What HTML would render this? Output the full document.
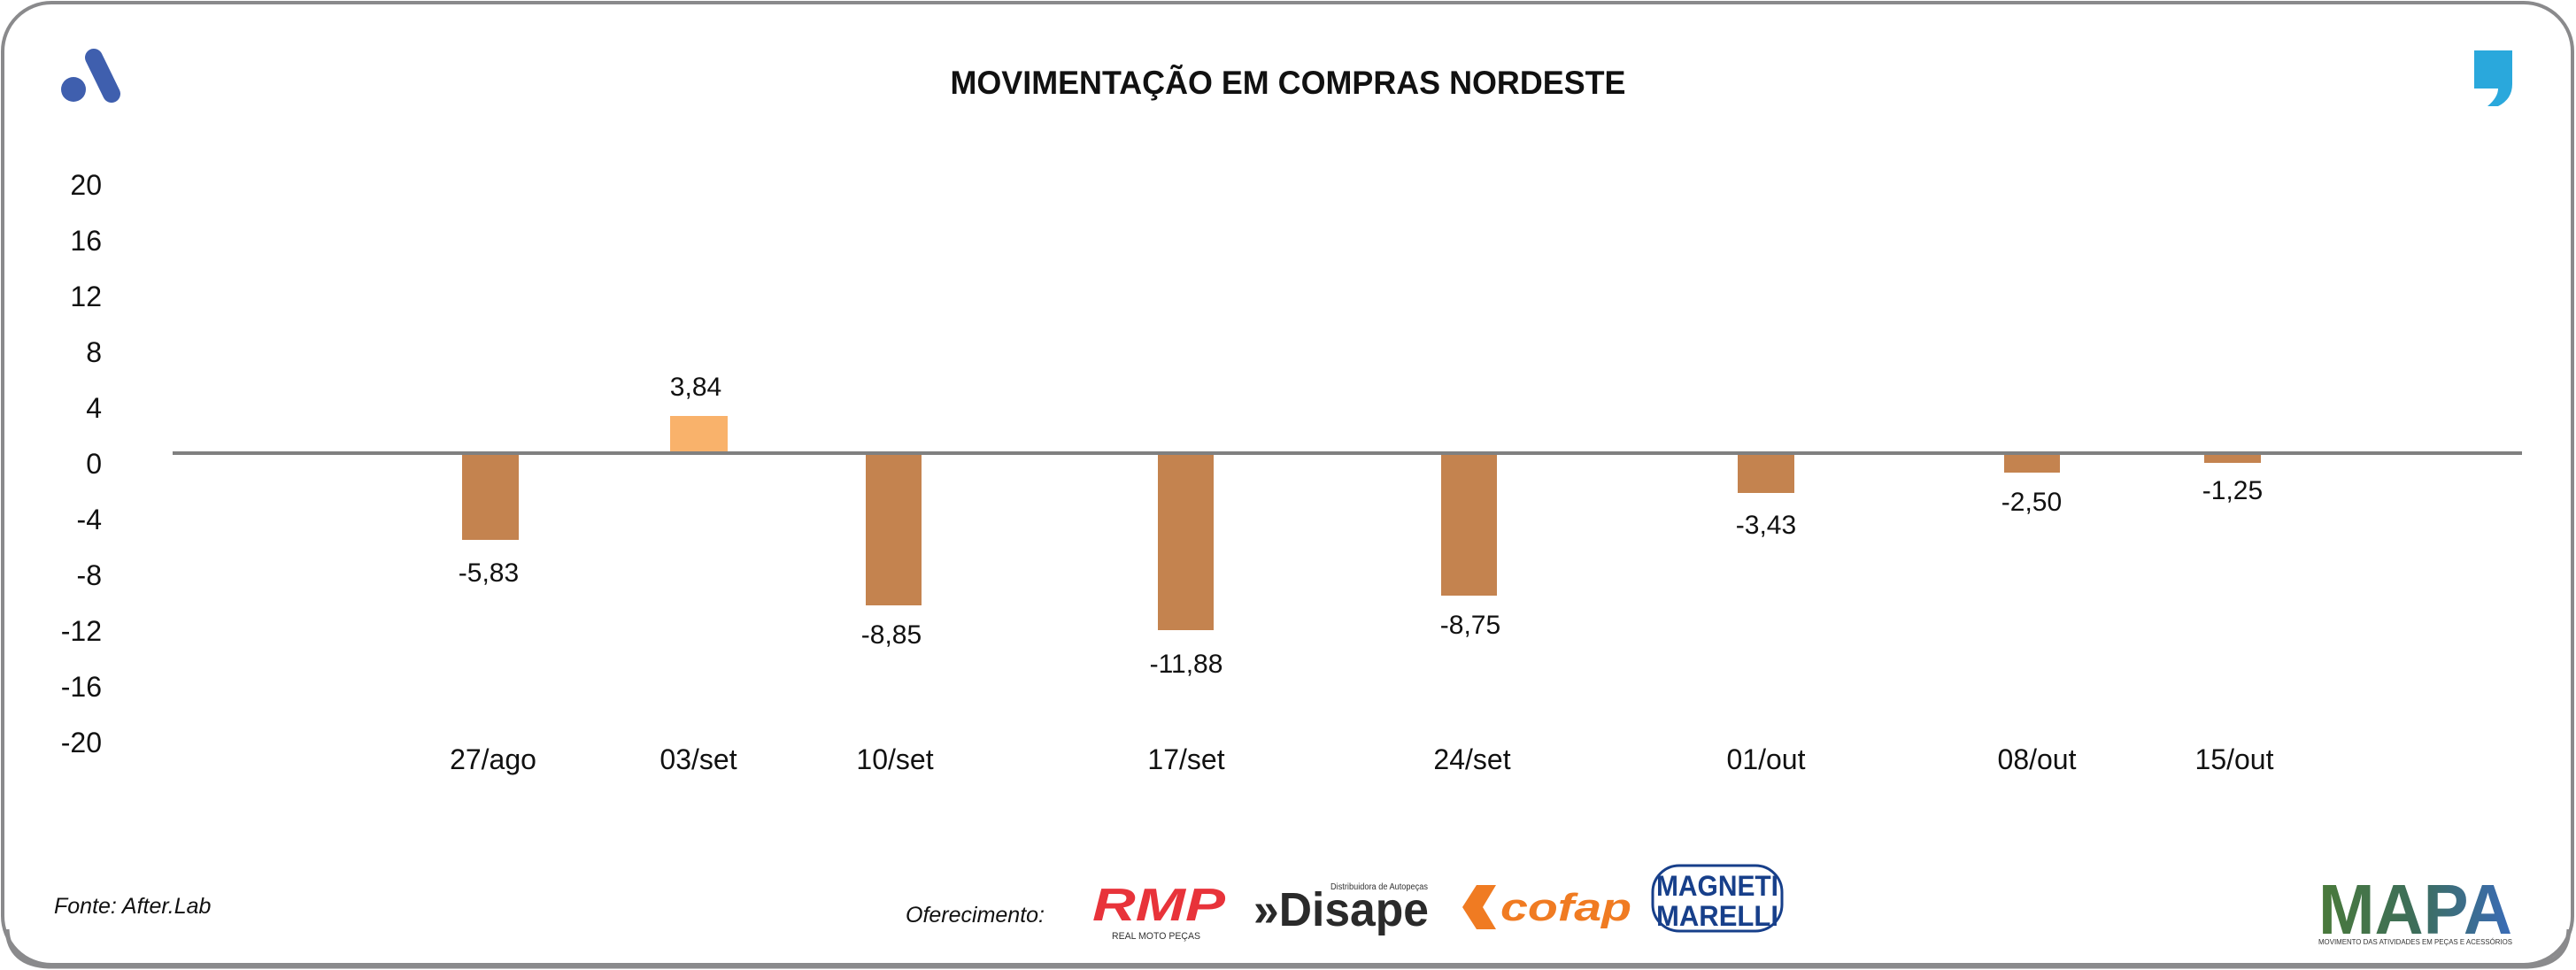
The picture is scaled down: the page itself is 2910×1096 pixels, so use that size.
<!DOCTYPE html>
<html><head><meta charset="utf-8"><style>
html,body{margin:0;padding:0;background:#fff;}
svg{display:block;}
text{font-family:"Liberation Sans",sans-serif;}
</style></head><body>
<svg width="2910" height="1096" viewBox="0 0 2910 1096" xmlns="http://www.w3.org/2000/svg">
<rect x="0" y="0" width="2910" height="1096" fill="#fff"/>
<rect x="3" y="3" width="2903" height="1087" rx="55" ry="55" fill="#fff" stroke="#8a8a8c" stroke-width="4"/>
<path d="M8 1050 Q10 1090 55 1092 L2855 1092 Q2900 1090 2902 1050" fill="none" stroke="#8a8a8c" stroke-width="5"/>
<!-- left logo -->
<line x1="106" y1="65" x2="126" y2="106" stroke="#3f5fae" stroke-width="20" stroke-linecap="round"/>
<circle cx="83" cy="101" r="14" fill="#3f5fae"/>
<!-- right logo -->
<path d="M2795 57 L2838 57 L2838 95 Q2838 112 2822 120 L2810 120 Q2822 110 2822 100 L2795 100 Z" fill="#2aa8dc"/>
<text x="1455" y="106" text-anchor="middle" font-size="37" font-weight="bold" fill="#111" textLength="763" lengthAdjust="spacingAndGlyphs">MOVIMENTAÇÃO EM COMPRAS NORDESTE</text>
<!-- y axis -->
<g font-size="32" fill="#111" text-anchor="end">
<text x="115" y="220">20</text>
<text x="115" y="283">16</text>
<text x="115" y="346">12</text>
<text x="115" y="409">8</text>
<text x="115" y="472">4</text>
<text x="115" y="535">0</text>
<text x="115" y="598">-4</text>
<text x="115" y="661">-8</text>
<text x="115" y="724">-12</text>
<text x="115" y="787">-16</text>
<text x="115" y="850">-20</text>
</g>
<!-- bars -->
<g fill="#c4834f">
<rect x="522" y="512" width="64" height="98"/>
<rect x="978" y="512" width="63" height="172"/>
<rect x="1308" y="512" width="63" height="200"/>
<rect x="1628" y="512" width="63" height="161"/>
<rect x="1963" y="512" width="64" height="45"/>
<rect x="2264" y="512" width="63" height="22"/>
<rect x="2490" y="512" width="64" height="11"/>
</g>
<rect x="757" y="470" width="65" height="42" fill="#f9b26b"/>
<line x1="195" y1="512" x2="2849" y2="512" stroke="#808080" stroke-width="4"/>
<!-- value labels -->
<g font-size="30" fill="#111" text-anchor="middle">
<text x="552" y="657">-5,83</text>
<text x="786" y="447">3,84</text>
<text x="1007" y="727">-8,85</text>
<text x="1340" y="760">-11,88</text>
<text x="1661" y="716">-8,75</text>
<text x="1995" y="603">-3,43</text>
<text x="2295" y="577">-2,50</text>
<text x="2522" y="564">-1,25</text>
</g>
<!-- x labels -->
<g font-size="32" fill="#111" text-anchor="middle">
<text x="557" y="869">27/ago</text>
<text x="789" y="869">03/set</text>
<text x="1011" y="869">10/set</text>
<text x="1340" y="869">17/set</text>
<text x="1663" y="869">24/set</text>
<text x="1995" y="869">01/out</text>
<text x="2301" y="869">08/out</text>
<text x="2524" y="869">15/out</text>
</g>
<!-- footer -->
<text x="61" y="1032" font-size="25" font-style="italic" fill="#111">Fonte: After.Lab</text>
<text x="1023" y="1042" font-size="25" font-style="italic" fill="#111">Oferecimento:</text>
<!-- RMP -->
<text x="1234" y="1040" font-size="52" font-weight="bold" font-style="italic" fill="#e8333a" textLength="150" lengthAdjust="spacingAndGlyphs">RMP</text>
<text x="1256" y="1061" font-size="11" fill="#333" textLength="100" lengthAdjust="spacingAndGlyphs">REAL MOTO PEÇAS</text>
<!-- Disape -->
<text x="1416" y="1046" font-size="54" font-weight="bold" fill="#2a2a2a" textLength="198" lengthAdjust="spacingAndGlyphs">»Disape</text>
<text x="1503" y="1005" font-size="10" fill="#333" textLength="110" lengthAdjust="spacingAndGlyphs">Distribuidora de Autopeças</text>
<!-- cofap -->
<path d="M1652 1025 L1668 1000 L1690 1000 L1675 1025 L1690 1050 L1668 1050 Z" fill="#f07b22"/>
<text x="1695" y="1040" font-size="44" font-weight="bold" font-style="italic" fill="#f07b22" textLength="148" lengthAdjust="spacingAndGlyphs">cofap</text>
<!-- Magneti -->
<rect x="1867" y="978" width="146" height="74" rx="30" fill="#fff" stroke="#173f8a" stroke-width="3"/>
<text x="1940" y="1012" font-size="32" font-weight="bold" fill="#173f8a" text-anchor="middle" textLength="138" lengthAdjust="spacingAndGlyphs">MAGNETI</text>
<text x="1940" y="1046" font-size="32" font-weight="bold" fill="#173f8a" text-anchor="middle" textLength="138" lengthAdjust="spacingAndGlyphs">MARELLI</text>
<!-- MAPA -->
<defs><linearGradient id="mg" x1="0" x2="1" y1="0" y2="0"><stop offset="0" stop-color="#4a7a3a"/><stop offset="0.5" stop-color="#3d6e5a"/><stop offset="1" stop-color="#3a6cb8"/></linearGradient></defs>
<text x="2619" y="1055" font-size="80" font-weight="bold" fill="url(#mg)" textLength="219" lengthAdjust="spacingAndGlyphs">MAPA</text>
<text x="2619" y="1067" font-size="8" fill="#333" textLength="219" lengthAdjust="spacingAndGlyphs">MOVIMENTO DAS ATIVIDADES EM PEÇAS E ACESSÓRIOS</text>
</svg>
</body></html>
